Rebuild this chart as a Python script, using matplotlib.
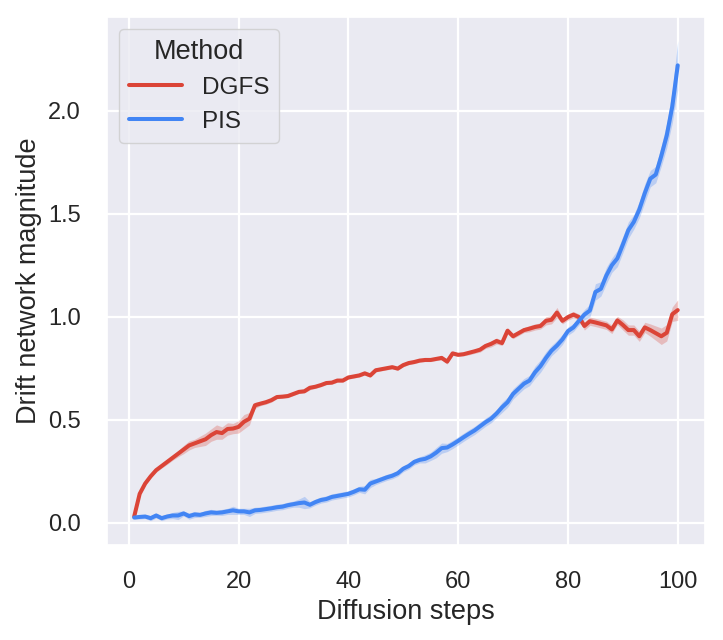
import numpy as np
import matplotlib
matplotlib.use("Agg")
import matplotlib.pyplot as plt
import seaborn as sns

steps = list(range(1, 101))

dgfs_mean = [
    0.03, 0.14, 0.19, 0.225, 0.255, 0.275, 0.295, 0.315, 0.335, 0.355,
    0.375, 0.385, 0.395, 0.405, 0.425, 0.44, 0.435, 0.455, 0.457, 0.465,
    0.49, 0.505, 0.57, 0.578, 0.585, 0.595, 0.61, 0.612, 0.615, 0.625,
    0.635, 0.638, 0.655, 0.66, 0.668, 0.678, 0.68, 0.69, 0.69, 0.705,
    0.71, 0.715, 0.725, 0.715, 0.74, 0.745, 0.75, 0.755, 0.748, 0.765,
    0.775, 0.78, 0.787, 0.79, 0.79, 0.795, 0.80, 0.782, 0.822, 0.815,
    0.818, 0.825, 0.832, 0.84, 0.858, 0.868, 0.882, 0.872, 0.932, 0.905,
    0.92, 0.935, 0.942, 0.95, 0.955, 0.98, 0.985, 1.02, 0.98, 0.998,
    1.01, 0.998, 0.955, 0.978, 0.972, 0.965, 0.958, 0.938, 0.982, 0.96,
    0.935, 0.935, 0.905, 0.948, 0.935, 0.92, 0.905, 0.922, 1.012, 1.032,
]
dgfs_err = [
    0.005, 0.008, 0.008, 0.008, 0.01, 0.01, 0.012, 0.012, 0.015, 0.02,
    0.022, 0.02, 0.025, 0.03, 0.03, 0.035, 0.03, 0.03, 0.025, 0.03,
    0.035, 0.03, 0.015, 0.01, 0.01, 0.01, 0.008, 0.008, 0.008, 0.008,
    0.008, 0.008, 0.01, 0.008, 0.008, 0.008, 0.008, 0.008, 0.008, 0.008,
    0.008, 0.008, 0.008, 0.01, 0.008, 0.008, 0.008, 0.008, 0.008, 0.008,
    0.008, 0.008, 0.008, 0.008, 0.008, 0.008, 0.01, 0.012, 0.01, 0.008,
    0.008, 0.01, 0.01, 0.012, 0.012, 0.015, 0.015, 0.012, 0.015, 0.012,
    0.012, 0.012, 0.015, 0.015, 0.015, 0.02, 0.02, 0.025, 0.015, 0.015,
    0.015, 0.015, 0.02, 0.02, 0.02, 0.02, 0.02, 0.02, 0.02, 0.025,
    0.025, 0.025, 0.025, 0.025, 0.03, 0.035, 0.04, 0.04, 0.035, 0.05,
]

pis_mean = [
    0.025, 0.028, 0.03, 0.022, 0.035, 0.022, 0.03, 0.035, 0.035, 0.045,
    0.032, 0.04, 0.038, 0.045, 0.05, 0.048, 0.05, 0.055, 0.06, 0.055,
    0.055, 0.05, 0.06, 0.062, 0.066, 0.07, 0.075, 0.078, 0.085, 0.09,
    0.095, 0.098, 0.087, 0.10, 0.11, 0.115, 0.125, 0.13, 0.135, 0.14,
    0.15, 0.162, 0.16, 0.19, 0.20, 0.21, 0.22, 0.228, 0.24, 0.262,
    0.275, 0.295, 0.305, 0.31, 0.322, 0.34, 0.362, 0.365, 0.38, 0.397,
    0.415, 0.432, 0.448, 0.468, 0.488, 0.505, 0.53, 0.56, 0.585, 0.625,
    0.65, 0.675, 0.69, 0.73, 0.76, 0.80, 0.835, 0.86, 0.89, 0.93,
    0.948, 0.98, 1.01, 1.03, 1.12, 1.135, 1.20, 1.25, 1.283, 1.35,
    1.42, 1.46, 1.52, 1.60, 1.67, 1.69, 1.78, 1.88, 2.02, 2.22,
]
pis_err = [
    0.008, 0.01, 0.01, 0.012, 0.012, 0.012, 0.012, 0.015, 0.02, 0.012,
    0.015, 0.015, 0.012, 0.015, 0.015, 0.012, 0.015, 0.015, 0.02, 0.015,
    0.015, 0.02, 0.015, 0.015, 0.015, 0.015, 0.015, 0.015, 0.015, 0.015,
    0.02, 0.03, 0.015, 0.015, 0.015, 0.015, 0.015, 0.015, 0.015, 0.015,
    0.015, 0.015, 0.02, 0.02, 0.015, 0.015, 0.015, 0.015, 0.015, 0.015,
    0.015, 0.015, 0.015, 0.02, 0.02, 0.025, 0.025, 0.02, 0.02, 0.02,
    0.02, 0.02, 0.02, 0.02, 0.02, 0.02, 0.02, 0.025, 0.025, 0.025,
    0.025, 0.025, 0.025, 0.03, 0.03, 0.03, 0.025, 0.025, 0.025, 0.02,
    0.02, 0.02, 0.025, 0.03, 0.04, 0.035, 0.04, 0.035, 0.04, 0.04,
    0.04, 0.035, 0.04, 0.045, 0.04, 0.04, 0.05, 0.06, 0.08, 0.12,
]

methods = ["DGFS", "PIS"]
colors = ["#DB4437", "#4285F4"]

sns.set_theme(style="darkgrid")
plt.rcParams['font.family'] = ['Liberation Sans', 'DejaVu Sans']
plt.rcParams['grid.linewidth'] = 1.6

fig = plt.figure(figsize=(7.23, 6.4), dpi=100)
ax = fig.add_axes([0.148, 0.149, 0.827, 0.825])

x = np.array(steps)
for name, mean, err, c in zip(methods, [dgfs_mean, pis_mean],
                              [dgfs_err, pis_err], colors):
    m = np.array(mean)
    e = np.array(err)
    ax.fill_between(x, m - e, m + e, color=c, alpha=0.28, linewidth=0)
    ax.plot(x, m, color=c, linewidth=2.9, label=name)

ax.set_xlabel("Diffusion steps", fontsize=19.5, labelpad=4)
ax.set_ylabel("Drift network magnitude", fontsize=19.5, labelpad=4)
ax.tick_params(labelsize=17, pad=13)
ax.set_xticks([0, 20, 40, 60, 80, 100])
ax.set_yticks([0.0, 0.5, 1.0, 1.5, 2.0])
leg = ax.legend(title="Method", loc="upper left", fontsize=17.5,
                title_fontsize=19.5, handlelength=2.2)

fig.savefig("out.png", dpi=100)
